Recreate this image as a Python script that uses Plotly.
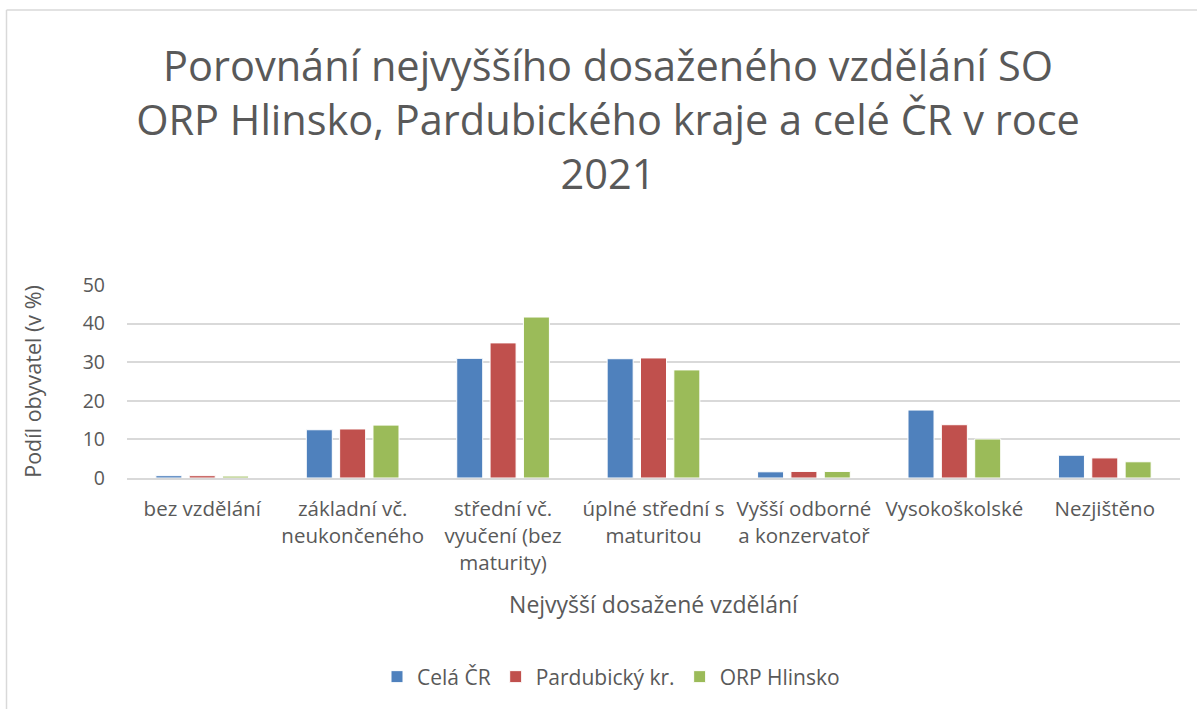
import plotly.graph_objects as go

categories = [
    "bez vzdělání",
    "základní vč.<br>neukončeného",
    "střední vč.<br>vyučení (bez<br>maturity)",
    "úplné střední s<br>maturitou",
    "Vyšší odborné<br>a konzervatoř",
    "Vysokoškolské",
    "Nezjištěno",
]
cela_cr = [0.6, 12.5, 31.0, 30.9, 1.6, 17.6, 5.9]
pardubicky = [0.6, 12.7, 35.0, 31.1, 1.7, 13.8, 5.2]
orp_hlinsko = [0.5, 13.7, 41.7, 28.0, 1.7, 10.1, 4.2]
y_ticks = [0, 10, 20, 30, 40, 50]

series = [
    ("Celá ČR", cela_cr, "#4F81BD"),
    ("Pardubický kr.", pardubicky, "#C0504D"),
    ("ORP Hlinsko", orp_hlinsko, "#9BBB59"),
]

FONT = "Open Sans"
TXT = "#595959"

fig = go.Figure()
for name, vals, col in series:
    fig.add_trace(go.Bar(
        x=categories, y=vals, name=name,
        marker=dict(color=col, line=dict(color="white", width=1)),
    ))

W, H = 1197, 709
L, R, T, B = 127, 17, 285, 231
pw, ph = W - L - R, H - T - B

def px_x(p):
    return (p - L) / pw

def px_y(p):
    return (H - B - p) / ph

fig.update_layout(
    width=W, height=H,
    margin=dict(l=L, r=R, t=T, b=B, autoexpand=False),
    paper_bgcolor="white", plot_bgcolor="white",
    font=dict(family=FONT, color=TXT, size=20),
    barmode="group", bargap=0.335, bargroupgap=0.22,
    title=dict(
        text="Porovnání nejvyššího dosaženého vzdělání SO<br>ORP Hlinsko, Pardubického kraje a celé ČR v roce<br>2021",
        x=608 / W, xanchor="center", xref="container",
        y=1 - 81 / H, yanchor="top", yref="container",
        font=dict(family=FONT, size=41.5, color=TXT),
    ),
    xaxis=dict(
        showgrid=False, showline=True, linecolor="#D9D9D9", linewidth=1.5,
        ticks="", ticklabelstandoff=12, tickfont=dict(size=20.5, color=TXT),
        title=dict(text="Nejvyšší dosažené vzdělání", standoff=22,
                   font=dict(size=23, color=TXT)),
    ),
    yaxis=dict(
        range=[0, 50], tickvals=y_ticks, showgrid=True, gridcolor="#D9D9D9",
        gridwidth=1.5, zeroline=False, showline=False, ticks="",
        ticklabelstandoff=21, tickfont=dict(size=19.5, color=TXT),
        title=dict(text="Podíl obyvatel (v %)", standoff=35,
                   font=dict(size=21.5, color=TXT)),
    ),
    legend=dict(
        orientation="h", x=px_x(611), xanchor="center", y=px_y(677),
        yanchor="middle", font=dict(size=21, color=TXT),
        itemwidth=30, traceorder="normal",
    ),
    shapes=[
        dict(type="line", xref="paper", yref="paper",
             x0=px_x(6.5), x1=px_x(W), y0=px_y(10), y1=px_y(10),
             line=dict(color="#D9D9D9", width=1.5)),
        dict(type="line", xref="paper", yref="paper",
             x0=px_x(6.5), x1=px_x(6.5), y0=px_y(10), y1=px_y(H),
             line=dict(color="#D9D9D9", width=1.5)),
    ],
)

fig.write_html("out.html", config={"displayModeBar": False},
               post_script="document.body.style.margin='0px';")
